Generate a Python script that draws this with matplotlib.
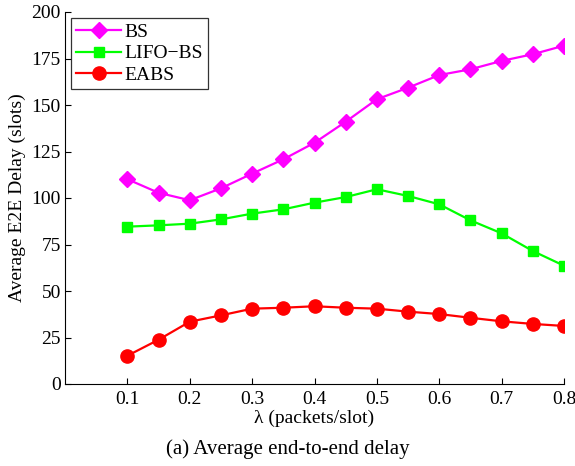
import matplotlib
matplotlib.use("Agg")
import matplotlib.pyplot as plt

plt.rcParams['font.family'] = ['Liberation Serif', 'DejaVu Serif']
plt.rcParams['mathtext.fontset'] = 'stix'

lam = [0.1, 0.15, 0.2, 0.25, 0.3, 0.35, 0.4, 0.45, 0.5, 0.55, 0.6, 0.65, 0.7, 0.75, 0.8]
bs = [110.1, 102.8, 98.8, 105.2, 113.1, 120.8, 129.7, 141.0, 153.1, 159.3, 166.1, 169.2, 173.7, 177.3, 181.9]
lifo_bs = [84.6, 85.3, 86.2, 88.5, 91.6, 93.9, 97.5, 100.5, 104.7, 101.1, 96.6, 88.0, 81.0, 71.5, 63.6]
eabs = [15.2, 23.8, 33.5, 36.9, 40.5, 41.0, 41.8, 41.0, 40.5, 38.9, 37.6, 35.6, 33.7, 32.3, 31.2]
xticks = [0.1, 0.2, 0.3, 0.4, 0.5, 0.6, 0.7, 0.8]
yticks = [0, 25, 50, 75, 100, 125, 150, 175, 200]

fig = plt.figure(figsize=(5.75, 4.66), dpi=100)
ax = fig.add_axes([65/575, 1 - 384/466, (564-65)/575, (384-12)/466])

ax.plot(lam, bs, color='#ff00ff', marker='D', markersize=8, linewidth=1.6, label='BS')
ax.plot(lam, lifo_bs, color='#00ff00', marker='s', markersize=7.5, linewidth=1.6, label='LIFO\u2212BS')
ax.plot(lam, eabs, color='#ff0000', marker='o', markersize=9.5, linewidth=1.6, label='EABS')

ax.set_xlim(0, 0.8)
ax.set_ylim(0, 200)
ax.set_xticks(xticks)
ax.set_xticklabels([f'{v:.1f}' for v in xticks])
ax.set_yticks(yticks)
ax.tick_params(direction='in', labelsize=14, length=4, width=0.8)
ax.tick_params(axis='x', pad=5)
ax.tick_params(axis='y', pad=3)
for s in ['top', 'right']:
    ax.spines[s].set_visible(False)
for s in ['left', 'bottom']:
    ax.spines[s].set_linewidth(0.8)

ax.set_xlabel('\u03bb (packets/slot)', fontsize=14, labelpad=1)
ax.set_ylabel('Average E2E Delay (slots)', fontsize=14, labelpad=4)

leg = ax.legend(loc='upper left', fontsize=14, frameon=True, fancybox=False,
                edgecolor='black', borderaxespad=0.33, handlelength=2.3,
                labelspacing=0.2, borderpad=0.25, handletextpad=0.2)
leg.get_frame().set_linewidth(0.9)

fig.text(0.5, 1 - 449/466, '(a) Average end-to-end delay', ha='center', va='center', fontsize=15)

fig.savefig('out.png', dpi=100)
